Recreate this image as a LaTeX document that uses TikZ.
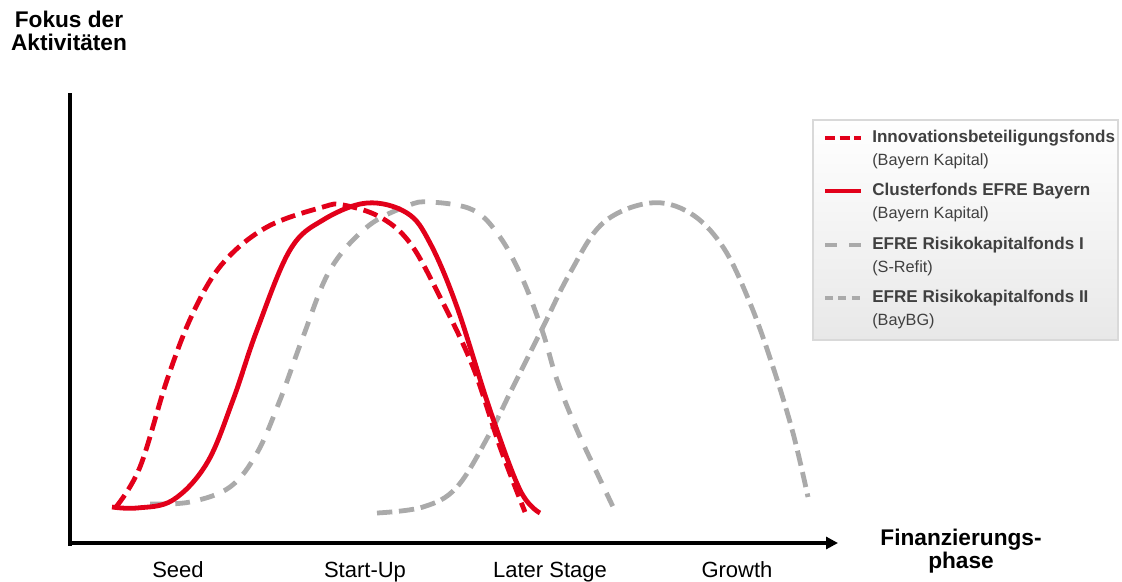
\documentclass[tikz,border=0pt]{standalone}
\usepackage{fontspec}
\setmainfont{Liberation Sans}
\usetikzlibrary{arrows.meta}
\definecolor{fred}{HTML}{E2001A}
\definecolor{fgray}{HTML}{AAAAAA}
\definecolor{ltxt}{HTML}{404040}
\definecolor{lborder}{HTML}{D9D9D9}
\begin{document}
\begin{tikzpicture}[x=0.75pt,y=-0.75pt,
  axis/.style={line width=2.4pt,black},
  axlabel/.style={font=\fontsize{17}{17}\selectfont\bfseries,align=center,inner sep=0pt},
  phase/.style={font=\fontsize{16.5}{18}\selectfont,inner sep=0pt,anchor=base},
  curve/.style={line width=3.6pt,line join=round},
  reddash/.style={curve,fred,dash pattern=on 11pt off 5pt},
  redsolid/.style={curve,fred},
  grayone/.style={curve,fgray,dash pattern=on 11pt off 8pt},
  graytwo/.style={curve,fgray,dash pattern=on 11.5pt off 5pt},
  legtitle/.style={anchor=west,inner sep=0pt,text=ltxt,font=\fontsize{12.8}{14}\selectfont\bfseries},
  legsub/.style={anchor=west,inner sep=0pt,text=ltxt,font=\fontsize{12.2}{14}\selectfont},
]
\useasboundingbox (0,0) rectangle (1122,582);

% axis labels
\node[axlabel] (ylab) at (69,31) {Fokus der\\Aktivitäten};
\node[axlabel] (xlab) at (961,551) {Finanzierungs-\\phase};

% axes
\coordinate (ytop) at (70,95);
\coordinate (orig) at (70,544);
\coordinate (xend) at (838,543);
\draw[axis,line cap=rect] (ytop) -- (orig);
\draw[axis,-{Triangle[length=9pt,width=9pt]}] (68,543) -- (xend);

% phase labels
\node[phase] (seed) at (178,577) {Seed};
\node[phase] (start) at (365,577) {Start-Up};
\node[phase] (later) at (550,577) {Later Stage};
\node[phase] (growth) at (737,577) {Growth};

% gray curves
\draw[grayone] plot[smooth,tension=0.6] coordinates {(150,504) (190,502) (230,487) (257,453) (280,400) (303,337) (330,270) (367,227) (407,206) (430,202) (473,210) (500,237) (523,280) (543,333) (557,380) (577,430) (597,473) (615,511)};
\draw[graytwo] plot[smooth,tension=0.6] coordinates {(377,513) (423,507) (457,487) (490,433) (510,393) (543,327) (570,273) (603,223) (650,203) (690,213) (723,247) (750,303) (773,367) (793,433) (808,497)};

% red curves
\draw[reddash] plot[smooth,tension=0.6] coordinates {(116,507) (140,467) (167,380) (193,313) (223,263) (267,227) (323,207) (343,205) (380,217) (410,243) (440,297) (473,367) (500,447) (525,512)};
\draw[redsolid] plot[smooth,tension=0.6] coordinates {(112,507) (137,508) (173,500) (207,463) (233,400) (257,330) (290,250) (323,220) (367,203) (407,213) (430,243) (457,307) (490,410) (520,490) (540,513)};

% legend
\shade[top color=white,bottom color=black!9,draw=lborder,line width=0.8pt] (813,120) rectangle (1118,340);
\coordinate (l1a) at (825,138); \coordinate (l1b) at (861,138);
\coordinate (l2a) at (825,191); \coordinate (l2b) at (861,191);
\coordinate (l3a) at (825,245); \coordinate (l3b) at (861,245);
\coordinate (l4a) at (825,298); \coordinate (l4b) at (861,298);
\draw[fred,line width=3pt,dash pattern=on 7.5pt off 3.5pt] (l1a) -- (l1b);
\draw[fred,line width=3pt] (l2a) -- (l2b);
\draw[fgray,line width=3pt,dash pattern=on 9pt off 9pt] (l3a) -- (l3b);
\draw[fgray,line width=3pt,dash pattern=on 6pt off 4pt] (l4a) -- (l4b);
\node[legtitle] (t1) at (872,138) {Innovationsbeteiligungsfonds};
\node[legsub] (s1) at (872,161) {(Bayern Kapital)};
\node[legtitle] (t2) at (872,191) {Clusterfonds EFRE Bayern};
\node[legsub] (s2) at (872,214) {(Bayern Kapital)};
\node[legtitle] (t3) at (872,245) {EFRE Risikokapitalfonds I};
\node[legsub] (s3) at (872,268) {(S-Refit)};
\node[legtitle] (t4) at (872,298) {EFRE Risikokapitalfonds II};
\node[legsub] (s4) at (872,321) {(BayBG)};
\end{tikzpicture}
\end{document}
